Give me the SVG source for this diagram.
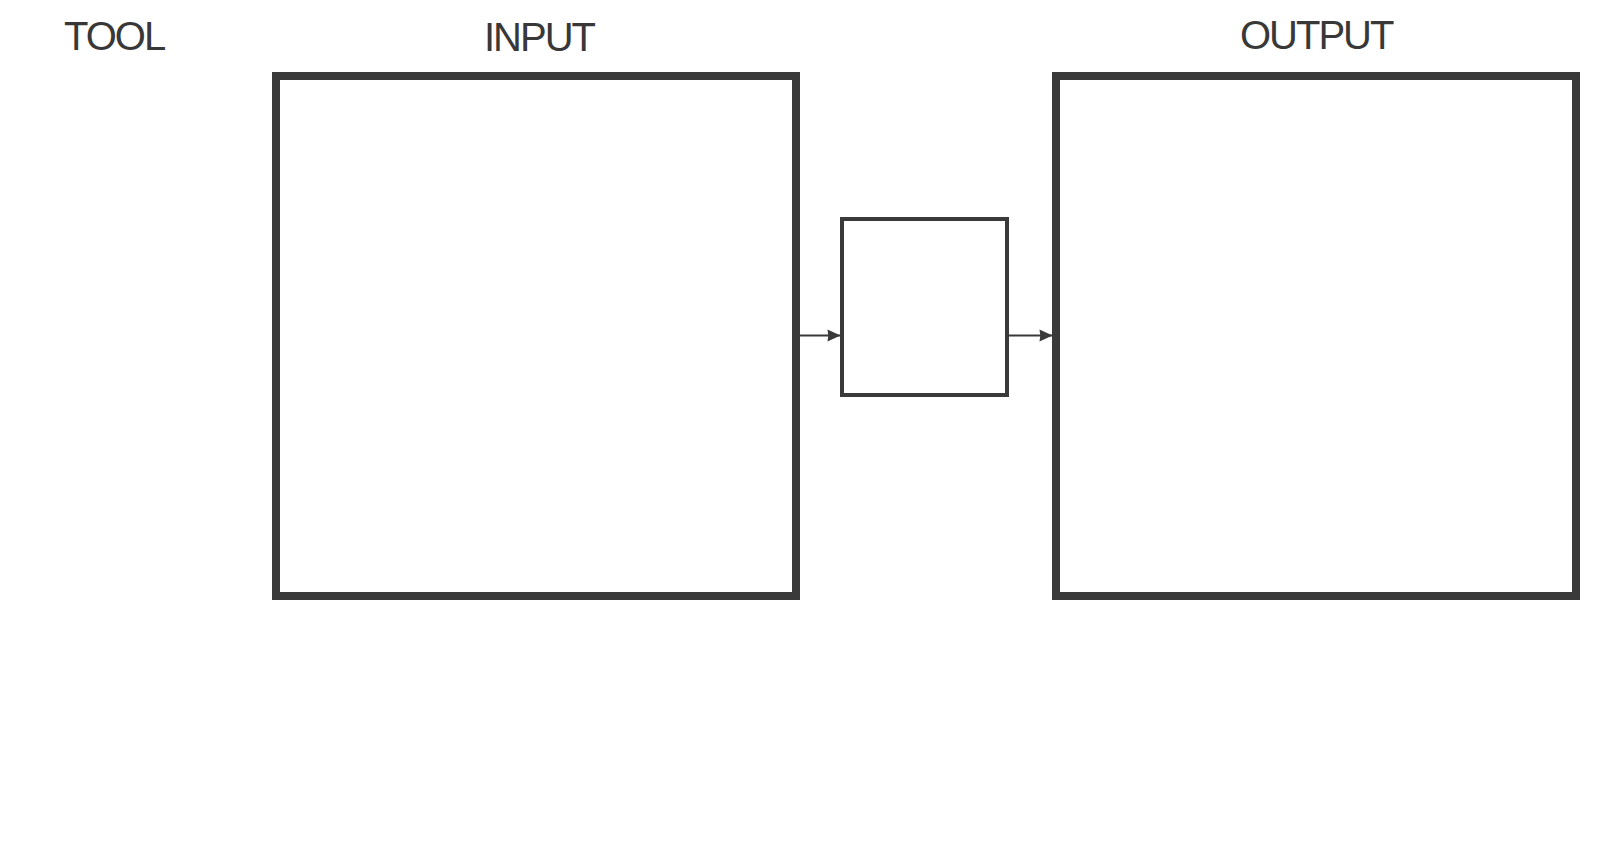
<svg xmlns="http://www.w3.org/2000/svg" width="1600" height="852" viewBox="0 0 1600 852">
<style>
.lbl{font-family:"Liberation Sans",Arial,sans-serif;font-size:40px;fill:#383838;letter-spacing:-2px}
.big{fill:#ffffff;stroke:#3a3a3a;stroke-width:8}
.small{fill:#ffffff;stroke:#3a3a3a;stroke-width:4}
.conn{stroke:#3a3a3a;stroke-width:2;fill:none}
</style>
<defs>
<marker id="arr" markerWidth="13" markerHeight="12" refX="13" refY="6" orient="auto" markerUnits="userSpaceOnUse" overflow="visible">
<path d="M0,0 L13,6 L0,12 L0.8,6 Z" fill="#3a3a3a"/>
</marker>
</defs>
<rect width="1600" height="852" fill="#ffffff"/>
<g id="tool-label"><text class="lbl" x="64" y="50">TOOL</text></g>
<g id="input"><rect class="big" x="276" y="76" width="520" height="520"/><text class="lbl" x="484" y="50.5">INPUT</text></g>
<g id="process"><rect class="small" x="842" y="219" width="165" height="176"/></g>
<g id="output"><rect class="big" x="1056" y="76" width="520" height="520"/><text class="lbl" x="1240" y="48.5">OUTPUT</text></g>
<g id="connectors">
<line class="conn" x1="800" y1="335.5" x2="840.5" y2="335.5" marker-end="url(#arr)"/>
<line class="conn" x1="1009" y1="335.5" x2="1052.5" y2="335.5" marker-end="url(#arr)"/>
</g>
</svg>
